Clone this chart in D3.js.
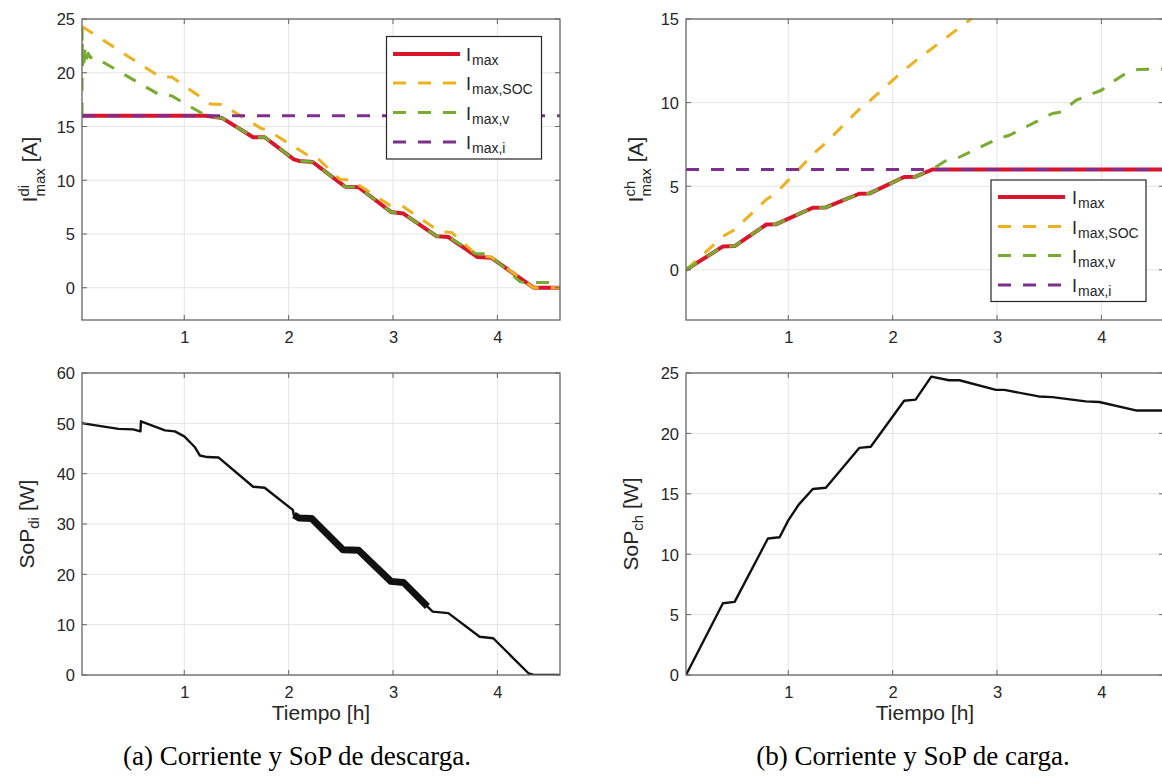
<!DOCTYPE html>
<html><head><meta charset="utf-8">
<script src="https://cdn.jsdelivr.net/npm/d3@7"></script>
<style>
html,body{margin:0;padding:0;background:#fff;}
svg{display:block;}
text{font-family:"Liberation Sans",Arial,Helvetica,sans-serif;fill:#262626;}
.cap{font-family:"Liberation Serif","Times New Roman",serif;fill:#000;}
</style></head><body>
<svg id="c" width="1162" height="781"></svg>
<script>
// ---------------- DATA ----------------
const xTickValues = [1, 2, 3, 4];
const timeDomain = [0.02, 4.6];

// (a) discharge currents [A]
const tDiMax = [0.02,1.21,1.36,1.66,1.77,2.05,2.10,2.23,2.54,2.67,2.98,3.10,3.42,3.53,3.81,3.94,4.34,4.36,4.6];
const iDiMax = [16,16,15.8,14.0,14.0,11.95,11.8,11.7,9.4,9.35,7.05,6.9,4.78,4.72,2.85,2.8,0.05,0,0];
const tDiSoc = [0.02,0.77,0.88,1.25,1.36,1.74,1.79,2.18,2.25,2.49,2.60,2.97,3.08,3.45,3.56,3.81,3.94,4.34,4.36,4.6];
const iDiSoc = [24.3,19.6,19.6,17.1,17.05,14.8,14.7,12.35,12.3,10.1,10.0,7.67,7.67,5.2,5.15,3.0,2.85,0.05,0,0];
const tDiV = [0.02,0.021,0.025,0.03,0.04,0.05,0.06,0.08,0.10,0.13,0.77,0.88,1.21,1.36,1.66,1.77,2.05,2.10,2.23,2.54,2.67,2.98,3.10,3.42,3.53,3.79,3.91,4.22,4.25,4.6];
const iDiV = [16,24,20.5,22,21,22.2,21.2,21.8,21.4,21.5,17.9,17.85,16.0,15.8,14.0,14.0,11.95,11.8,11.7,9.4,9.35,7.05,6.9,4.78,4.72,3.17,3.17,0.55,0.5,0.5];
const tDiI = [0.02, 4.6];
const iDiI = [16, 16];

// (a) discharge SoP [W]
const tSopDi = [0.02,0.03,0.37,0.51,0.58,0.585,0.815,0.91,1.0,1.1,1.15,1.22,1.33,1.66,1.77,2.04,2.05,2.10,2.22,2.52,2.67,2.98,3.10,3.33,3.38,3.53,3.83,3.96,4.30,4.35,4.6];
const pSopDi = [50.2,50.0,48.9,48.8,48.4,50.4,48.6,48.4,47.4,45.3,43.6,43.3,43.2,37.4,37.2,32.8,31.8,31.2,31.1,24.9,24.8,18.6,18.4,13.6,12.6,12.3,7.6,7.3,0.3,0,0];
const sopDiNoisyRange = [2.05, 3.35];

// (b) charge currents [A]
const tChMax = [0.02,0.374,0.486,0.79,0.885,1.235,1.36,1.68,1.78,2.11,2.22,2.38,4.6];
const iChMax = [0,1.40,1.42,2.71,2.73,3.71,3.73,4.55,4.57,5.55,5.57,6.0,6.0];
const tChSoc = [0.02,0.374,0.486,0.79,0.885,1.235,1.36,1.68,1.78,2.11,2.22,2.75,2.8];
const iChSoc = [0,2.0,2.4,4.2,4.6,6.9,7.6,9.6,10.1,11.95,12.5,15.0,15.25];
const tChV = [0.02,0.374,0.486,0.79,0.885,1.235,1.36,1.68,1.78,2.11,2.22,2.38,2.50,2.61,3.01,3.12,3.53,3.62,3.76,4.0,4.1,4.23,4.35,4.6];
const iChV = [0,1.40,1.42,2.71,2.73,3.71,3.73,4.55,4.57,5.55,5.57,6.0,6.5,6.65,7.85,8.05,9.35,9.45,10.15,10.74,11.2,11.74,11.98,12.0];
const tChI = [0.02, 4.6];
const iChI = [6, 6];

// (b) charge SoP [W]
const tSopCh = [0.02,0.374,0.486,0.805,0.917,1.0,1.1,1.235,1.36,1.68,1.79,2.11,2.22,2.37,2.54,2.64,2.99,3.07,3.40,3.53,3.85,3.98,4.33,4.6];
const pSopCh = [0,5.94,6.05,11.3,11.4,12.8,14.1,15.4,15.5,18.8,18.9,22.7,22.8,24.7,24.4,24.4,23.6,23.6,23.06,23.0,22.65,22.6,21.9,21.9];

const yTicksDiI = [0,5,10,15,20,25];
const yTicksChI = [0,5,10,15];
const yTicksDiP = [0,10,20,30,40,50,60];
const yTicksChP = [0,5,10,15,20,25];

const legendSubs = ["max", "max,SOC", "max,v", "max,i"];
const captions = ["(a) Corriente y SoP de descarga.", "(b) Corriente y SoP de carga."];
const xLabel = "Tiempo [h]";

// ---------------- STYLE ----------------
const C = {red:"#d9152c", yel:"#edb120", grn:"#77ac30", pur:"#7e2f8e", blk:"#111111",
           axis:"#666666", grid:"#e4e4e4"};
const svg = d3.select("#c");
const zip = (t, v) => t.map((d, i) => [d, v[i]]);

const panels = {
  tl:{x0:82,  x1:560,  y0:19,  y1:320, yd:[-3,25], yt:yTicksDiI},
  tr:{x0:686, x1:1164, y0:19,  y1:320, yd:[-3,15], yt:yTicksChI},
  bl:{x0:82,  x1:560,  y0:373, y1:675, yd:[0,60],  yt:yTicksDiP},
  br:{x0:686, x1:1164, y0:373, y1:675, yd:[0,25],  yt:yTicksChP}
};
Object.entries(panels).forEach(([k,p]) => {
  p.x = d3.scaleLinear().domain(timeDomain).range([p.x0, p.x1]);
  p.y = d3.scaleLinear().domain(p.yd).range([p.y1, p.y0]);
  p.g = svg.append("g");
  svg.append("clipPath").attr("id","clip-"+k).append("rect")
     .attr("x",p.x0).attr("y",p.y0).attr("width",p.x1-p.x0).attr("height",p.y1-p.y0);
  p.g.selectAll(".gx").data(xTickValues).join("line")
    .attr("x1",d=>p.x(d)).attr("x2",d=>p.x(d)).attr("y1",p.y0).attr("y2",p.y1)
    .attr("stroke",C.grid).attr("stroke-width",1);
  p.g.selectAll(".gy").data(p.yt).join("line")
    .attr("y1",d=>p.y(d)).attr("y2",d=>p.y(d)).attr("x1",p.x0).attr("x2",p.x1)
    .attr("stroke",C.grid).attr("stroke-width",1);
  p.data = p.g.append("g").attr("clip-path","url(#clip-"+k+")");
});

function drawLine(p, t, v, color, width, dashed) {
  const line = d3.line().x(d=>p.x(d[0])).y(d=>p.y(d[1]));
  p.data.append("path").datum(zip(t,v)).attr("d",line)
    .attr("fill","none").attr("stroke",color).attr("stroke-width",width)
    .attr("stroke-linejoin","round")
    .attr("stroke-dasharray", dashed ? "13,12" : null);
}

drawLine(panels.tl, tDiMax, iDiMax, C.red, 4, false);
drawLine(panels.tl, tDiSoc, iDiSoc, C.yel, 3, true);
drawLine(panels.tl, tDiV, iDiV, C.grn, 3, true);
drawLine(panels.tl, tDiI, iDiI, C.pur, 3, true);
drawLine(panels.tr, tChMax, iChMax, C.red, 4, false);
drawLine(panels.tr, tChSoc, iChSoc, C.yel, 3, true);
drawLine(panels.tr, tChV, iChV, C.grn, 3, true);
drawLine(panels.tr, tChI, iChI, C.pur, 3, true);
drawLine(panels.bl, tSopDi, pSopDi, C.blk, 2.4, false);
{
  const idx = tSopDi.map((t,i)=>i).filter(i => tSopDi[i] >= sopDiNoisyRange[0] && tSopDi[i] <= sopDiNoisyRange[1]);
  drawLine(panels.bl, idx.map(i=>tSopDi[i]), idx.map(i=>pSopDi[i]), C.blk, 7, false);
}
drawLine(panels.br, tSopCh, pSopCh, C.blk, 2.4, false);

Object.values(panels).forEach(p => {
  const g = p.g.append("g");
  g.append("rect").attr("x",p.x0).attr("y",p.y0).attr("width",p.x1-p.x0).attr("height",p.y1-p.y0)
    .attr("fill","none").attr("stroke",C.axis).attr("stroke-width",1.3);
  const tl = 5;
  xTickValues.forEach(d => {
    g.append("line").attr("x1",p.x(d)).attr("x2",p.x(d)).attr("y1",p.y1).attr("y2",p.y1-tl).attr("stroke",C.axis);
    g.append("line").attr("x1",p.x(d)).attr("x2",p.x(d)).attr("y1",p.y0).attr("y2",p.y0+tl).attr("stroke",C.axis);
  });
  p.yt.forEach(d => {
    g.append("line").attr("y1",p.y(d)).attr("y2",p.y(d)).attr("x1",p.x0).attr("x2",p.x0+tl).attr("stroke",C.axis);
    g.append("line").attr("y1",p.y(d)).attr("y2",p.y(d)).attr("x1",p.x1).attr("x2",p.x1-tl).attr("stroke",C.axis);
  });
  const ax = d3.axisBottom(p.x).tickValues(xTickValues).tickSize(0).tickPadding(0).tickFormat(d3.format("d"));
  const axg = svg.append("g").attr("transform",`translate(0,${p.y1})`).call(ax);
  axg.select(".domain").remove();
  axg.selectAll("text").attr("y",22.5).attr("dy",null).style("font-size","16.5px").attr("fill","#262626")
     .style("font-family",'"Liberation Sans",Arial,sans-serif');
  const ay = d3.axisLeft(p.y).tickValues(p.yt).tickSize(0).tickPadding(0).tickFormat(d3.format("d"));
  const ayg = svg.append("g").attr("transform",`translate(${p.x0-7},0)`).call(ay);
  ayg.select(".domain").remove();
  ayg.selectAll("text").attr("x",0).attr("dy","0.36em").style("font-size","16.5px").attr("fill","#262626")
     .style("font-family",'"Liberation Sans",Arial,sans-serif');
});

// x labels (centred on the visible box)
[panels.bl, panels.br].forEach(p => {
  svg.append("text").attr("x",(p.x0+p.x1)/2).attr("y",720)
    .attr("text-anchor","middle").style("font-size","21px").text(xLabel);
});

function rich(g, parts) {
  let cx = 0, prevStart = 0;
  parts.forEach(p => {
    const start = p.stack ? prevStart : cx + (p.gap||0);
    const el = g.append("text").attr("x",start).attr("y",p.dy||0).style("font-size",p.size+"px").text(p.t);
    if (p.fill) el.attr("fill",p.fill);
    const w = el.node().getComputedTextLength();
    prevStart = start;
    cx = Math.max(cx, start + w);
  });
  return cx;
}
function yLabel(xb, cy, parts) {
  const g = svg.append("g").attr("transform",`translate(${xb},${cy}) rotate(-90)`);
  const inner = g.append("g");
  const w = rich(inner, parts);
  inner.attr("transform",`translate(${-w/2},0)`);
}
yLabel(36.5, 169.5, [{t:"I",size:21},{t:"di",size:15,dy:-8},{t:"max",size:15,dy:8,stack:true},{t:"[A]",size:21,gap:6}]);
yLabel(643, 169.5, [{t:"I",size:21},{t:"ch",size:15,dy:-8},{t:"max",size:15,dy:8,stack:true},{t:"[A]",size:21,gap:6}]);
yLabel(33.5, 524, [{t:"SoP",size:21},{t:"di",size:15,dy:5},{t:"[W]",size:21,gap:6}]);
yLabel(637.5, 524, [{t:"SoP",size:21},{t:"ch",size:15,dy:5},{t:"[W]",size:21,gap:6}]);

function legend(bx, by, bw, bh, rowY, lx0, lx1, tx) {
  const g = svg.append("g");
  g.append("rect").attr("x",bx).attr("y",by).attr("width",bw).attr("height",bh)
    .attr("fill","#fff").attr("stroke","#262626").attr("stroke-width",1.2);
  const cols = [C.red, C.yel, C.grn, C.pur];
  legendSubs.forEach((s,i) => {
    const y = by + rowY[i];
    g.append("line").attr("x1",lx0).attr("x2",lx1).attr("y1",y).attr("y2",y)
      .attr("stroke",cols[i]).attr("stroke-width", i===0?4:3)
      .attr("stroke-dasharray", i===0?null:"13,12");
    const tg = g.append("g").attr("transform",`translate(${tx},${y+7})`);
    rich(tg, [{t:"I",size:18,fill:"#000"},{t:s,size:14,dy:4,gap:1,fill:"#000"}]);
  });
}
legend(386.5, 36.5, 155, 122.5, [17.5,46.5,76,105.5], 393, 460, 466);
legend(991, 180, 155, 121.5, [17,46.5,75.5,105], 998, 1065, 1072);

svg.append("text").attr("class","cap").attr("x",297).attr("y",765).attr("text-anchor","middle")
  .style("font-size","27px").text(captions[0]);
svg.append("text").attr("class","cap").attr("x",913).attr("y",765).attr("text-anchor","middle")
  .style("font-size","27px").text(captions[1]);
</script></body></html>
